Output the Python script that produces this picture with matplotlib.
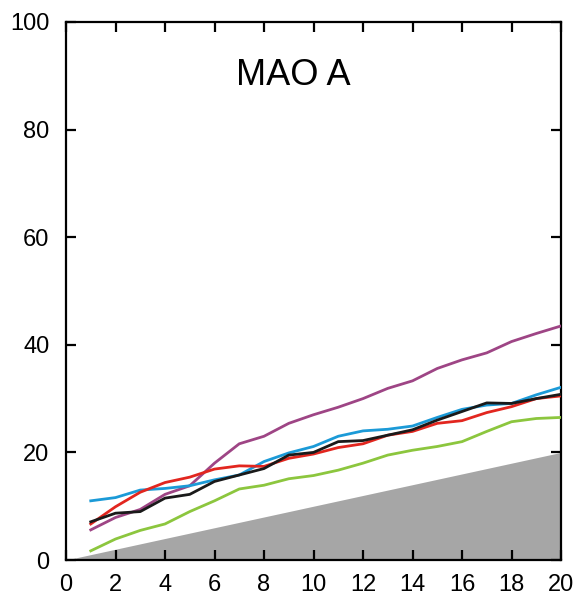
import matplotlib
matplotlib.use('Agg')
import matplotlib.pyplot as plt
import numpy as np

plt.rcParams['font.family'] = ['Liberation Sans', 'DejaVu Sans']

x = np.arange(1, 21)
blue = [11.0, 11.6, 13.0, 13.3, 13.8, 14.9, 15.8, 18.3, 19.9, 21.1,
        23.0, 24.0, 24.3, 24.9, 26.5, 28.0, 28.8, 29.1, 30.7, 32.1]
red = [6.7, 9.9, 12.6, 14.4, 15.4, 16.9, 17.5, 17.4, 18.9, 19.7,
       20.9, 21.6, 23.2, 23.9, 25.4, 25.9, 27.4, 28.5, 30.0, 30.5]
black = [7.1, 8.7, 9.0, 11.5, 12.2, 14.6, 15.8, 17.0, 19.5, 20.0,
         22.0, 22.2, 23.2, 24.2, 26.0, 27.6, 29.2, 29.1, 30.0, 30.8]
purple = [5.6, 7.9, 9.4, 12.2, 13.8, 18.0, 21.6, 23.0, 25.4, 27.0,
          28.4, 30.0, 31.9, 33.3, 35.6, 37.2, 38.5, 40.6, 42.1, 43.5]
green = [1.7, 3.9, 5.5, 6.7, 9.0, 11.0, 13.2, 13.9, 15.1, 15.7,
         16.7, 18.0, 19.5, 20.4, 21.1, 22.0, 23.9, 25.7, 26.3, 26.5]

# shaded reference region under y = x
ref_x = [0, 20]
ref_y = [0, 20]

fig = plt.figure(figsize=(5.78, 5.99), dpi=100)
ax = fig.add_axes([0.1142, 0.0651, 0.8564, 0.8982])

ax.fill_between(ref_x, 0, ref_y, color='#a6a6a6', linewidth=0, zorder=1)

series = [(green, '#8cc63e'), (purple, '#9e4585'), (blue, '#1b9ad7'),
          (red, '#e2261f'), (black, '#1a1a1a')]
for vals, col in series:
    ax.plot(x, vals, color=col, linewidth=2.0, zorder=3)

ax.set_xlim(0, 20)
ax.set_ylim(0, 100)
ax.set_xticks(range(0, 21, 2))
ax.set_yticks(range(0, 101, 20))
ax.tick_params(direction='in', length=7, width=1.6, top=True, right=True,
               labelsize=17)
ax.tick_params(axis='x', pad=10)
ax.tick_params(axis='y', pad=12)
for s in ax.spines.values():
    s.set_linewidth(1.6)

ax.text(0.459, 0.90, 'MAO A', transform=ax.transAxes, fontsize=26,
        ha='center', va='center')

fig.savefig('out.png', dpi=100)
